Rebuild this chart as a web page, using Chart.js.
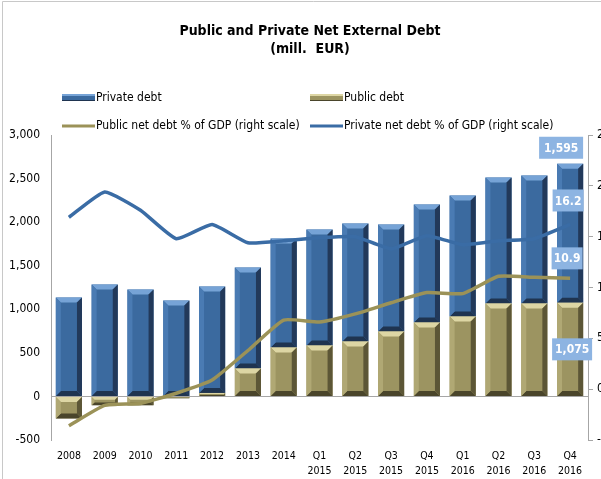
<!DOCTYPE html>
<html>
<head>
<meta charset="utf-8">
<script src="https://cdn.jsdelivr.net/npm/chart.js@4.4.0/dist/chart.umd.min.js"></script>
<style>
  html, body { margin: 0; padding: 0; background: #fff; overflow: hidden; }
  #wrap { position: relative; width: 625px; height: 479px; }
</style>
</head>
<body>
<div id="wrap"><canvas id="chart"></canvas></div>
<script>
  // --- data ---
  const categories = ['2008', '2009', '2010', '2011', '2012', '2013', '2014',
    ['Q1', '2015'], ['Q2', '2015'], ['Q3', '2015'], ['Q4', '2015'],
    ['Q1', '2016'], ['Q2', '2016'], ['Q3', '2016'], ['Q4', '2016']];
  const privateDebt = [1135, 1284, 1227, 1101, 1221, 1158, 1250, 1330, 1354, 1227, 1353, 1388, 1444, 1467, 1595];
  const publicDebt = [-252, -100, -100, -20, 40, 321, 562, 585, 630, 745, 849, 917, 1067, 1067, 1075];
  const publicPct = [-3.6, -1.6, -1.4, -0.4, 0.9, 3.8, 6.8, 6.6, 7.4, 8.5, 9.5, 9.4, 11.1, 11.0, 10.9];
  const privatePct = [16.9, 19.4, 17.6, 14.8, 16.2, 14.4, 14.6, 14.9, 15.0, 13.8, 15.1, 14.2, 14.6, 14.8, 16.2];

  const titleLines = ['Public and Private Net External Debt', '(mill.  EUR)'];

  const FONT = '"DejaVu Sans Condensed", "DejaVu Sans", sans-serif';
  const BLUE = '#3b6a9f';
  const OLIVE = '#9c9461';
  const BLUE_LINE = '#3a6ca5';
  const OLIVE_LINE = '#9b9258';
  const AXIS = '#a6a6a6';

  const fmt = v => Math.round(v).toLocaleString('en-US');

  // bevel look of the Excel bars, drawn over each bar dataset
  const bevel = {
    blue: { top: '#76a3d6', left: '#4a7bb3', right: '#22395a', bottom: '#1f3450' },
    olive: { top: '#ddd6a4', left: '#b0a874', right: '#5c5636', bottom: '#4a452b' }
  };

  const bevelPlugin = {
    id: 'bevel',
    afterDatasetDraw(chart, args) {
      const ds = chart.data.datasets[args.index];
      if (ds.type !== 'bar') return;
      const ctx = chart.ctx;
      const pal = bevel[ds.bevel];
      args.meta.data.forEach(el => {
        const l = el.x - el.width / 2, r = el.x + el.width / 2;
        const t = Math.min(el.y, el.base), bm = Math.max(el.y, el.base);
        const h = bm - t;
        if (h < 1) return;
        const b = Math.min(5, h / 3);
        const poly = (pts, c) => {
          ctx.beginPath();
          ctx.moveTo(pts[0][0], pts[0][1]);
          for (let k = 1; k < pts.length; k++) ctx.lineTo(pts[k][0], pts[k][1]);
          ctx.closePath();
          ctx.fillStyle = c;
          ctx.fill();
        };
        ctx.save();
        poly([[l, t], [r, t], [r - b, t + b], [l + b, t + b]], pal.top);
        poly([[l, bm], [r, bm], [r - b, bm - b], [l + b, bm - b]], pal.bottom);
        poly([[l, t], [l + b, t + b], [l + b, bm - b], [l, bm]], pal.left);
        poly([[r, t], [r - b, t + b], [r - b, bm - b], [r, bm]], pal.right);
        ctx.restore();
      });
    }
  };

  // title, legend, frame and the last-point labels
  const decorPlugin = {
    id: 'decor',
    beforeDraw(chart) {
      const ctx = chart.ctx;
      ctx.save();
      ctx.strokeStyle = '#c8c8c8';
      ctx.lineWidth = 1;
      ctx.beginPath();
      ctx.moveTo(2.5, 479);
      ctx.lineTo(2.5, 1.5);
      ctx.lineTo(625, 1.5);
      ctx.stroke();
      ctx.restore();
    },
    afterDraw(chart) {
      const ctx = chart.ctx;
      ctx.save();
      ctx.fillStyle = '#000';
      ctx.textAlign = 'center';
      ctx.textBaseline = 'middle';
      ctx.font = 'bold 14px ' + FONT;
      ctx.fillText(titleLines[0], 310, 31);
      ctx.fillText(titleLines[1], 310, 49);

      // legend
      ctx.font = '12px ' + FONT;
      ctx.textAlign = 'left';
      const items = [
        { ds: 1, x: 62, y: 98, kind: 'bar' },
        { ds: 0, x: 310, y: 98, kind: 'bar' },
        { ds: 2, x: 62, y: 126, kind: 'line' },
        { ds: 3, x: 310, y: 126, kind: 'line' }
      ];
      items.forEach(it => {
        const ds = chart.data.datasets[it.ds];
        if (it.kind === 'bar') {
          const pal = bevel[ds.bevel];
          ctx.fillStyle = ds.backgroundColor;
          ctx.fillRect(it.x, it.y - 4, 33, 7);
          ctx.fillStyle = pal.top;
          ctx.fillRect(it.x, it.y - 4, 33, 2);
          ctx.fillStyle = pal.bottom;
          ctx.fillRect(it.x, it.y + 2, 33, 1);
        } else {
          ctx.strokeStyle = ds.borderColor;
          ctx.lineWidth = 3;
          ctx.beginPath();
          ctx.moveTo(it.x, it.y);
          ctx.lineTo(it.x + 33, it.y);
          ctx.stroke();
        }
        ctx.fillStyle = '#000';
        ctx.fillText(ds.label, it.x + 34, it.y);
      });

      // value labels on the last category
      const last = categories.length - 1;
      const box = (text, cx, cy, w) => {
        ctx.fillStyle = '#8db4e2';
        ctx.fillRect(cx - w / 2, cy - 11, w, 22);
        ctx.fillStyle = '#fff';
        ctx.font = 'bold 12px ' + FONT;
        ctx.textAlign = 'center';
        ctx.fillText(text, cx, cy + 1);
      };
      const pubBar = chart.getDatasetMeta(0).data[last];
      const privBar = chart.getDatasetMeta(1).data[last];
      const pubPt = chart.getDatasetMeta(2).data[last];
      const privPt = chart.getDatasetMeta(3).data[last];
      box(fmt(privateDebt[last]), privBar.x - 9, privBar.y - 16, 44);
      box(privatePct[last].toFixed(1), privPt.x - 2, privPt.y - 24, 31);
      box(publicPct[last].toFixed(1), pubPt.x - 3, pubPt.y - 20, 31);
      box(fmt(publicDebt[last]), pubBar.x + 2, (pubBar.y + pubBar.base) / 2, 40);
      ctx.restore();
    }
  };

  new Chart(document.getElementById('chart'), {
    data: {
      labels: categories,
      datasets: [
        {
          type: 'bar', label: 'Public debt', data: publicDebt, bevel: 'olive',
          backgroundColor: OLIVE, yAxisID: 'y', stack: 'debt', order: 2,
          barPercentage: 0.73, categoryPercentage: 1
        },
        {
          type: 'bar', label: 'Private debt', data: privateDebt, bevel: 'blue',
          backgroundColor: BLUE, yAxisID: 'y', stack: 'debt', order: 2,
          barPercentage: 0.73, categoryPercentage: 1
        },
        {
          type: 'line', label: 'Public net debt % of GDP (right scale)', data: publicPct,
          borderColor: OLIVE_LINE, borderWidth: 3.5, pointRadius: 0, tension: 0.15,
          yAxisID: 'y1', order: 0
        },
        {
          type: 'line', label: 'Private net debt % of GDP (right scale)', data: privatePct,
          borderColor: BLUE_LINE, borderWidth: 3.5, pointRadius: 0, tension: 0.15,
          yAxisID: 'y1', order: 0
        }
      ]
    },
    options: {
      responsive: true,
      maintainAspectRatio: false,
      animation: false,
      layout: { padding: { top: 135, left: 0, right: 0, bottom: 0 } },
      plugins: {
        legend: { display: false },
        title: { display: false },
        tooltip: { enabled: false }
      },
      scales: {
        x: {
          stacked: true,
          grid: { display: false },
          border: { display: false },
          ticks: {
            color: '#000', maxRotation: 0, autoSkip: false, padding: 0,
            font: { family: FONT, size: 10.5, lineHeight: 1.5 }
          },
          afterFit: s => { s.height = 39; }
        },
        y: {
          position: 'left', stacked: true, min: -500, max: 3000,
          grid: {
            drawTicks: false,
            color: c => (c.tick && c.tick.value === 0) ? AXIS : 'rgba(0,0,0,0)'
          },
          border: { display: true, color: AXIS },
          ticks: {
            stepSize: 500, color: '#000', padding: 11,
            font: { family: FONT, size: 12 },
            callback: v => fmt(v)
          },
          afterFit: s => { s.width = 51; }
        },
        y1: {
          position: 'right', min: -5, max: 25,
          grid: { drawOnChartArea: false, drawTicks: true, tickLength: 5, color: AXIS },
          border: { display: true, color: AXIS },
          ticks: {
            stepSize: 5, color: '#000', padding: 4,
            font: { family: FONT, size: 12 }
          },
          afterFit: s => { s.width = 37; }
        }
      }
    },
    plugins: [bevelPlugin, decorPlugin]
  });
</script>
</body>
</html>
